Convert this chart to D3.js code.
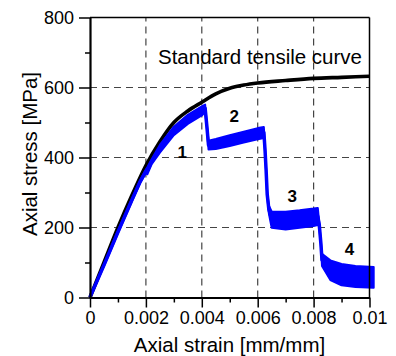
<!DOCTYPE html>
<html><head><meta charset="utf-8">
<script src="https://cdn.jsdelivr.net/npm/d3@7"></script>
<style>body{margin:0;background:#fff}svg{display:block}text{font-family:"Liberation Sans",Arial,sans-serif}</style>
</head><body><svg id="c" width="396" height="356"></svg>
<script>
const xTicks=[0,0.002,0.004,0.006,0.008,0.01];
const xTickLabels=["0","0.002","0.004","0.006","0.008","0.01"];
const xMinor=[0.001,0.003,0.005,0.007,0.009];
const yTicks=[0,200,400,600,800];
const yTickLabels=["0","200","400","600","800"];
const yMinor=[100,300,500,700];

const stdStrain=[0,0.0005,0.001,0.0015,0.002,0.0025,0.003,0.0035,0.004,0.0045,0.005,0.0055,0.006,0.007,0.008,0.009,0.01];
const stdStress=[0,100,200,292,377,445,500,533,558,582,598,607,613,620,626,629,632];

const blueStrain=[0,0.0005,0.001,0.0015,0.0018,0.002,0.00205,0.0022,0.0025,0.003,0.0035,0.004,0.00412,0.00418,0.00424,0.0045,0.005,0.0055,0.006,0.00622,0.00626,0.0063,0.00634,0.0064,0.0065,0.007,0.0075,0.008,0.00815,0.0082,0.00826,0.0083,0.0086,0.009,0.0095,0.01015];
const blueHigh=[2,95,190,282,336,366,372,394,436,488,522,546,551,495,448,453,464,474,484,487,430,370,300,262,246,245,249,254,256,215,160,125,106,96,90,87];
const blueLow=[0,90,184,275,328,356,352,380,414,464,496,520,530,485,423,424,433,443,452,456,420,360,290,240,199,194,199,204,207,205,150,90,50,35,30,28];

const stageLabels=["1","2","3","4"];
const stageStrain=[0.0033,0.00516,0.00724,0.00928];
const stageStress=[414,517,289,137];
const curveLabel="Standard tensile curve";
const xTitle="Axial strain [mm/mm]";
const yTitle="Axial stress [MPa]";

const svg=d3.select("#c");
const x=d3.scaleLinear().domain([0,0.01]).range([90,369.5]);
const y=d3.scaleLinear().domain([0,800]).range([297.5,17.5]);

// grid
const g=svg.append("g");
g.selectAll(".gx").data(xTicks.slice(1,-1)).enter().append("line")
 .attr("x1",d=>x(d)).attr("x2",d=>x(d)).attr("y1",y(0)).attr("y2",y(800))
 .attr("stroke","#444").attr("stroke-width",1.2).attr("stroke-dasharray","7,5");
g.selectAll(".gy").data(yTicks.slice(1,-1)).enter().append("line")
 .attr("x1",x(0)).attr("x2",x(0.01)).attr("y1",d=>y(d)).attr("y2",d=>y(d))
 .attr("stroke","#444").attr("stroke-width",1.2).attr("stroke-dasharray","7,5");

// standard curve
const stdData=stdStrain.map((s,i)=>[s,stdStress[i]]);
svg.append("path").datum(stdData)
 .attr("d",d3.line().x(d=>x(d[0])).y(d=>y(d[1])).curve(d3.curveMonotoneX))
 .attr("fill","none").attr("stroke","#000").attr("stroke-width",3.6);

// blue band
const blueData=blueStrain.map((s,i)=>({s,h:blueHigh[i],l:blueLow[i]}));
svg.append("path").datum(blueData)
 .attr("d",d3.area().x(d=>x(d.s)).y0(d=>y(d.l)).y1(d=>y(d.h)))
 .attr("fill","#0000ff").attr("stroke","#0000ff").attr("stroke-width",2).attr("stroke-linejoin","round");
svg.append("path").datum(blueData)
 .attr("d",d3.line().x(d=>x(d.s)).y(d=>y((d.h+d.l)/2)))
 .attr("fill","none").attr("stroke","#0000ff").attr("stroke-width",3.5).attr("stroke-linejoin","round");

// axes
const fs=18;
const xa=svg.append("g").attr("transform",`translate(0,${y(0)})`)
 .call(d3.axisBottom(x).tickValues(xTicks).tickFormat((d,i)=>xTickLabels[i]).tickSize(10).tickSizeOuter(0).tickPadding(4));
xa.select(".domain").attr("stroke-width",2);
xa.selectAll(".tick line").attr("stroke-width",1.5);
xa.selectAll("text").attr("font-size",fs).attr("font-family","Liberation Sans, Arial, sans-serif");
svg.append("g").attr("transform",`translate(0,${y(0)})`)
 .call(d3.axisBottom(x).tickValues(xMinor).tickFormat("").tickSize(5).tickSizeOuter(0))
 .call(s=>s.select(".domain").remove()).selectAll("line").attr("stroke-width",1.5);

const ya=svg.append("g").attr("transform",`translate(${x(0)},0)`)
 .call(d3.axisLeft(y).tickValues(yTicks).tickFormat((d,i)=>yTickLabels[i]).tickSize(11).tickSizeOuter(0).tickPadding(5));
ya.select(".domain").attr("stroke-width",2.2);
ya.selectAll(".tick line").attr("stroke-width",1.5);
ya.selectAll("text").attr("font-size",fs).attr("font-family","Liberation Sans, Arial, sans-serif");
svg.append("g").attr("transform",`translate(${x(0)},0)`)
 .call(d3.axisLeft(y).tickValues(yMinor).tickFormat("").tickSize(5).tickSizeOuter(0))
 .call(s=>s.select(".domain").remove()).selectAll("line").attr("stroke-width",1.5);

// top/right border
svg.append("line").attr("x1",x(0)).attr("x2",x(0.01)).attr("y1",y(800)).attr("y2",y(800)).attr("stroke","#000").attr("stroke-width",1.5);
svg.append("line").attr("x1",x(0.01)).attr("x2",x(0.01)).attr("y1",y(800)).attr("y2",y(0)).attr("stroke","#000").attr("stroke-width",1.5);

// labels
const ts=20.5;
svg.append("text").attr("x",158).attr("y",63.5).attr("font-size",ts).text(curveLabel);
svg.selectAll(".st").data(stageLabels).enter().append("text")
 .attr("x",(d,i)=>x(stageStrain[i])).attr("y",(d,i)=>y(stageStress[i]))
 .attr("text-anchor","middle").attr("dominant-baseline","central")
 .attr("font-size",17).attr("font-weight","bold").text(d=>d);
svg.append("text").attr("x",229.5).attr("y",351.5).attr("text-anchor","middle").attr("font-size",ts).text(xTitle);
svg.append("text").attr("transform",`translate(36.5,154) rotate(-90)`).attr("text-anchor","middle").attr("font-size",ts).text(yTitle);
</script></body></html>
